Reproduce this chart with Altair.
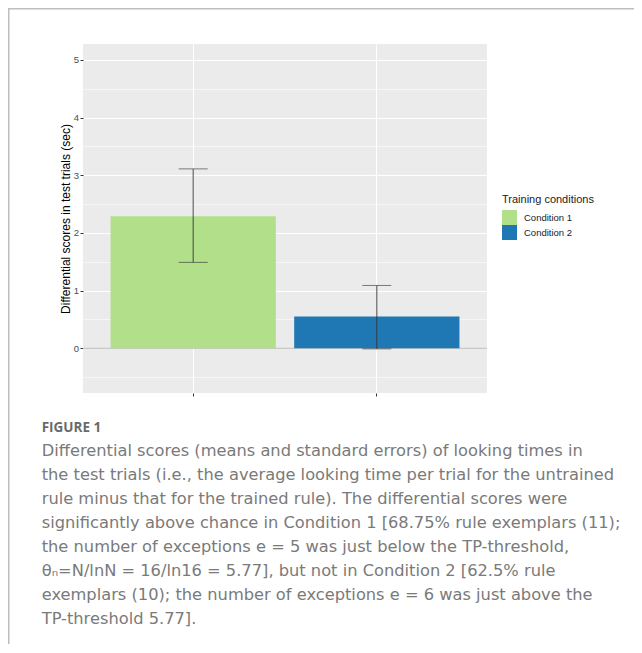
import altair as alt
import pandas as pd

conditions = ["Condition 1", "Condition 2"]
means = [2.29, 0.55]
err_low = [1.49, -0.01]
err_high = [3.11, 1.09]
colors = ["#B2DF8A", "#1F78B4"]

y_major = [0, 1, 2, 3, 4, 5]
y_minor = [-0.5, 0.5, 1.5, 2.5, 3.5, 4.5]
y_domain = [-0.775, 5.275]

caption_title = "FIGURE 1"
caption_lines = [
    "Differential scores (means and standard errors) of looking times in",
    "the test trials (i.e., the average looking time per trial for the untrained",
    "rule minus that for the trained rule). The differential scores were",
    "significantly above chance in Condition 1 [68.75% rule exemplars (11);",
    "the number of exceptions e = 5 was just below the TP-threshold,",
    "\u03b8\u2099=N/lnN = 16/ln16 = 5.77], but not in Condition 2 [62.5% rule",
    "exemplars (10); the number of exceptions e = 6 was just above the",
    "TP-threshold 5.77].",
]

df = pd.DataFrame({"condition": conditions, "mean": means, "lo": err_low, "hi": err_high})
one = pd.DataFrame({"a": [0]})

W, H = 404, 349
PL, PT, PR, PB = 75, 36, 147, 251
AX_FONT = "Liberation Sans"
CAP_FONT = "DejaVu Sans"

yscale = alt.Scale(domain=y_domain, nice=False, zero=False)
xscale = alt.Scale(domain=conditions, paddingInner=0.1, paddingOuter=0.15)

base = alt.Chart(df)

x_enc = alt.X(
    "condition:N",
    scale=xscale,
    sort=conditions,
    title=None,
    axis=alt.Axis(
        labels=False, domain=False, ticks=True, tickSize=3, tickColor="#333333",
        tickWidth=1, grid=True, gridColor="#FFFFFF", gridWidth=1.1,
    ),
)

zero_line = base.transform_filter("datum.condition == 'Condition 1'").transform_calculate(
    z="0"
).mark_rule(color="#C8C8C8", strokeWidth=1.2).encode(
    y=alt.Y(
        "z:Q",
        scale=yscale,
        axis=alt.Axis(
            orient="right", values=y_minor, grid=True, gridColor="#FFFFFF",
            gridWidth=0.55, labels=False, ticks=False, domain=False, title=None,
        ),
    ),
)

bars = base.mark_bar().encode(
    x=x_enc,
    y=alt.Y(
        "mean:Q",
        scale=yscale,
        title="Differential scores in test trials (sec)",
        axis=alt.Axis(
            orient="left", values=y_major, grid=True, gridColor="#FFFFFF", gridWidth=1.1,
            domain=False, tickSize=3, tickColor="#333333", labelFontSize=9.5,
            labelColor="#4D4D4D", labelFont=AX_FONT, labelPadding=1.5,
            titleFont=AX_FONT, titleFontSize=12, titleFontWeight="normal",
            titleColor="#000000", titlePadding=1,
        ),
    ),
    color=alt.Color(
        "condition:N",
        scale=alt.Scale(domain=conditions, range=colors),
        legend=alt.Legend(
            title="Training conditions", orient="none", legendX=419, legendY=150,
            padding=0, titleFont=AX_FONT, titleFontSize=11, titleFontWeight="normal",
            titleColor="#1A1A1A", titlePadding=5, labelFont=AX_FONT, labelFontSize=9.5,
            labelColor="#1A1A1A", labelOffset=7, symbolType="square", symbolSize=225,
            symbolStrokeWidth=0, rowPadding=0, symbolOpacity=1,
        ),
    ),
)

err_rule = base.mark_rule(color="#333333", strokeWidth=0.9).encode(
    x=alt.X("condition:N", scale=xscale, sort=conditions),
    y=alt.Y("lo:Q", scale=yscale, axis=None),
    y2="hi:Q",
)

caps = base.transform_fold(["lo", "hi"], as_=["k", "v"]).mark_tick(
    color="#333333", thickness=0.9, size=29
).encode(
    x=alt.X("condition:N", scale=xscale, sort=conditions),
    y=alt.Y("v:Q", scale=yscale, axis=None),
)

frame_left = alt.Chart(one).mark_rule(color="#BDBDBD", strokeWidth=1.5).encode(
    x=alt.value(-PL + 0.75), y=alt.value(-PT), y2=alt.value(H + PB)
)

frame_top = alt.Chart(one).mark_rule(color="#BDBDBD", strokeWidth=1.5).encode(
    x=alt.value(-PL), x2=alt.value(W + PR), y=alt.value(-PT + 0.75)
)

fig_label = alt.Chart(one).mark_text(
    text=caption_title, align="left", baseline="alphabetic", font="Open Sans",
    fontSize=13.5, fontWeight="bold", color="#6A6A6A",
).encode(x=alt.value(-41.3), y=alt.value(388))

caption = alt.Chart(one).mark_text(
    text=caption_lines, align="left", baseline="alphabetic", font=CAP_FONT,
    fontSize=16.25, fontWeight="normal", lineHeight=24.1, color="#7A7A7A",
).encode(x=alt.value(-41.3), y=alt.value(411.7))

chart = alt.layer(
    zero_line, bars, err_rule, caps, frame_left, frame_top, fig_label, caption
).resolve_axis(y="independent").resolve_scale(y="shared").properties(
    width=W,
    height=H,
    padding={"left": PL, "top": PT, "right": PR, "bottom": PB},
    autosize=alt.AutoSizeParams(type="none"),
).configure_view(fill="#EBEBEB", stroke=None)

chart.save("out.html", embed_options={"renderer": "svg", "actions": False})
